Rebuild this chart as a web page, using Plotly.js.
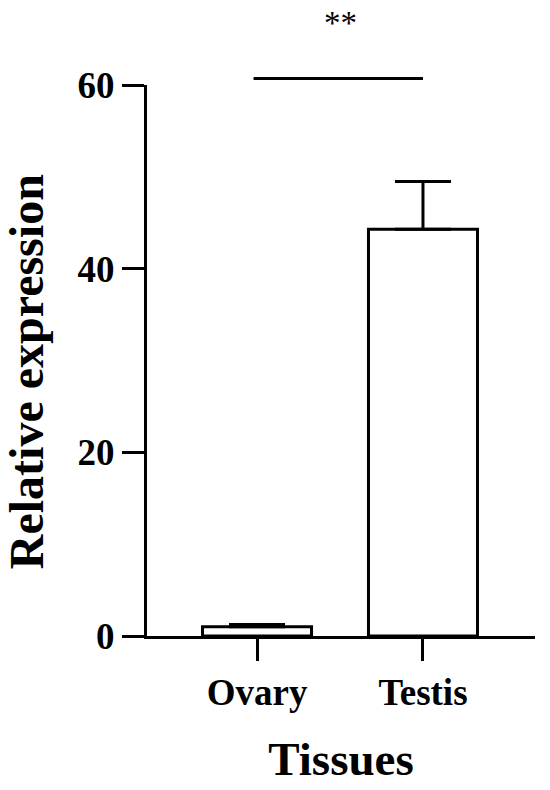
<!DOCTYPE html>
<html>
<head>
<meta charset="utf-8">
<script src="https://cdn.plot.ly/plotly-3.0.1.min.js"></script>
<style>
  html, body { margin: 0; padding: 0; background: #fff; }
  #chart { width: 550px; height: 790px; }
</style>
</head>
<body>
<div id="chart"></div>
<script>
// values
const tissues = ["Ovary", "Testis"];
const meanExpr = [1.0, 44.3];
const errUp = [0.25, 5.2];
const yTicks = [0, 20, 40, 60];
const yRange = [0, 60];
const sigSpan = [-0.03, 1.0];   // category positions of the significance bar ends
const sigLevel = 60.7;          // height of the bar, data units
const sigStarLevel = 64.6;
const sigLabel = "**";

// the significance marks sit above the axis top, so place them on the y domain
const toYDomain = (v) => (v - yRange[0]) / (yRange[1] - yRange[0]);

const serif = "Liberation Serif, Times New Roman, serif";
const tickFont = { family: serif, size: 37, weight: "bold", color: "#000" };

const trace = {
    type: "bar",
    x: tissues,
    y: meanExpr,
    width: 0.657,
    marker: { color: "#fff", line: { color: "#000", width: 3 } },
    error_y: {
        type: "data",
        symmetric: false,
        array: errUp,
        arrayminus: [0, 0],
        width: 28,
        thickness: 3,
        color: "#000",
    },
    hoverinfo: "x+y",
};

const layout = {
    width: 550,
    height: 790,
    margin: { l: 147, r: 15, t: 85, b: 154 },
    paper_bgcolor: "#fff",
    plot_bgcolor: "#fff",
    showlegend: false,
    xaxis: {
        type: "category",
        range: [-0.663, 1.675],
        showline: true,
        linecolor: "#000",
        linewidth: 3,
        ticks: "outside",
        ticklen: 22,
        tickwidth: 3,
        tickcolor: "#000",
        tickfont: tickFont,
        showgrid: false,
        zeroline: false,
        title: {
            text: "Tissues",
            font: { family: serif, size: 47, weight: "bold", color: "#000" },
            standoff: 30,
        },
    },
    yaxis: {
        range: yRange,
        tickvals: yTicks,
        showline: true,
        linecolor: "#000",
        linewidth: 3,
        ticks: "outside",
        ticklen: 22,
        tickwidth: 3,
        tickcolor: "#000",
        tickfont: tickFont,
        showgrid: false,
        zeroline: false,
    },
    annotations: [
        {
            // y title, set a little below the axis middle as in the source figure
            text: "Relative expression",
            xref: "paper", yref: "y domain",
            x: -0.31, y: 0.48,
            xanchor: "center", yanchor: "middle",
            textangle: -90,
            showarrow: false,
            font: { family: serif, size: 48, weight: "bold", color: "#000" },
        },
        {
            x: sigSpan[1], y: toYDomain(sigLevel),
            ax: sigSpan[0], ay: 0,
            xref: "x", yref: "y domain", axref: "x", ayref: "pixel",
            text: "",
            showarrow: true,
            arrowhead: 0,
            arrowwidth: 3,
            arrowcolor: "#000",
            standoff: 0,
            startstandoff: 0,
        },
        {
            x: (sigSpan[0] + sigSpan[1]) / 2 + 0.015,
            y: toYDomain(sigStarLevel),
            xref: "x", yref: "y domain",
            text: sigLabel,
            showarrow: false,
            yanchor: "bottom",
            font: { family: serif, size: 33, color: "#000" },
        },
    ],
};

Plotly.newPlot("chart", [trace], layout, { displayModeBar: false, staticPlot: true });
</script>
</body>
</html>
